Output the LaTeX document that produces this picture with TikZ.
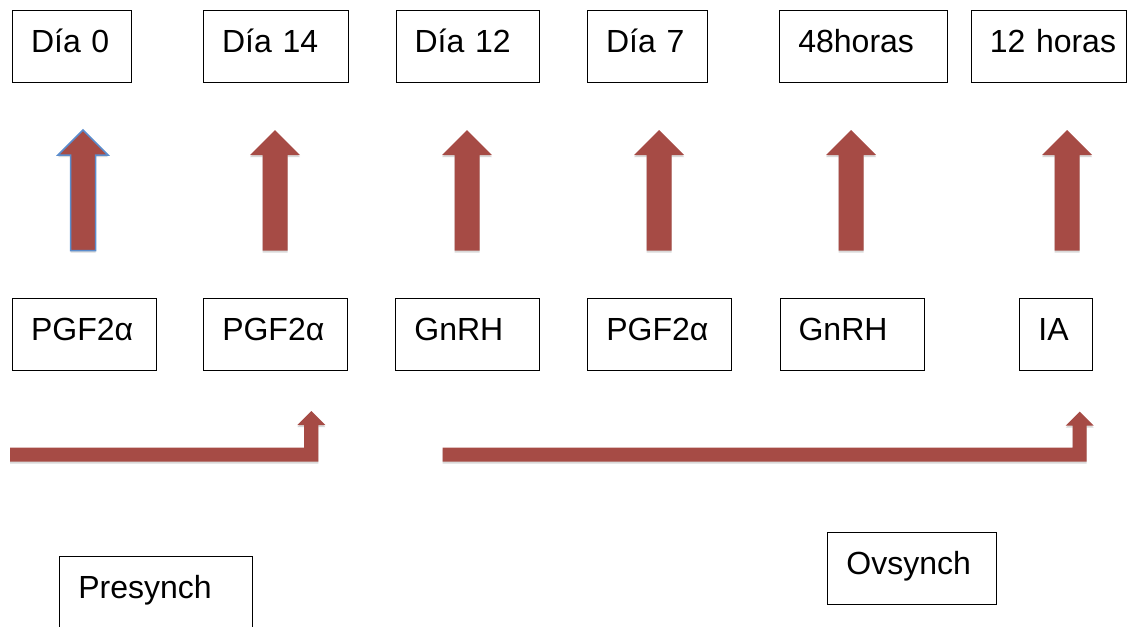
\documentclass[tikz,border=0pt]{standalone}
\usepackage{fontspec}
\setmainfont{Liberation Sans}
\usetikzlibrary{shadows}
\newlength{\ux}
\setlength{\ux}{0.75pt}
\definecolor{flecharoja}{RGB}{166,75,69}
\definecolor{bordeazul}{RGB}{91,141,205}

\begin{document}
\begin{tikzpicture}[x=0.75pt,y=-0.75pt,
        caja/.style={draw,line width=1.1\ux,anchor=north west,inner xsep=18.5\ux,inner ysep=0pt,
            text height=42\ux,text depth=30\ux,align=left,font=\fontsize{24}{28}\selectfont},
        flecha/.style={fill=flecharoja,drop shadow={shadow xshift=0pt,shadow yshift=-2\ux,fill=black!60,opacity=0.25}}]
    \useasboundingbox (0,0) rectangle (1127,626);
    % fila de dias
    \node[caja,text width=82\ux] (d0) at (12,10) {\mbox{Día 0}};
    \node[caja,text width=108\ux] (d14) at (203,10) {\mbox{Día 14}};
    \node[caja,text width=106.5\ux] (d12) at (395.5,10) {\mbox{Día 12}};
    \node[caja,text width=83\ux] (d7) at (587,10) {\mbox{Día 7}};
    \node[caja,text width=131\ux] (h48) at (779.3,10) {\mbox{48horas}};
    \node[caja,text width=118.3\ux] (h12) at (970.7,10) {\mbox{12 horas}};
    % flechas verticales
    \foreach \cx in {83,275,467,659,851,1067}{
        \fill[flecha] (\cx-12.5,250.5)--(\cx-12.5,155)--(\cx-25,155)--(\cx,130)--(\cx+25,155)--(\cx+12.5,155)--(\cx+12.5,250.5)--cycle;
    }
    \draw[bordeazul,line width=1.5\ux,line join=miter] (70.5,250.5)--(70.5,155)--(58,155)--(83,130)--(108,155)--(95.5,155)--(95.5,250.5)--cycle;
    % fila de tratamientos
    \node[caja,text width=107\ux] (p1) at (12,298) {PGF2α};
    \node[caja,text width=107\ux] (p2) at (203.2,298) {PGF2α};
    \node[caja,text width=107\ux] (g1) at (395.3,298) {GnRH};
    \node[caja,text width=107\ux] (p3) at (587.3,298) {PGF2α};
    \node[caja,text width=107\ux] (g2) at (779.5,298) {GnRH};
    \node[caja,text width=35.4\ux] (ia) at (1019.3,298) {IA};
    % flechas acodadas
    \fill[flecha] (10,447.5)--(304.2,447.5)--(304.2,425)--(297.3,425)--(311.3,411)--(325.3,425)--(318.4,425)--(318.4,461.5)--(10,461.5)--cycle;
    \fill[flecha] (442.7,447.5)--(1072.7,447.5)--(1072.7,425.7)--(1065.7,425.7)--(1079.7,411.7)--(1093.7,425.7)--(1086.7,425.7)--(1086.7,461.5)--(442.7,461.5)--cycle;
    % protocolos
    \node[caja,text width=155.4\ux] (pre) at (59.3,556) {Presynch};
    \node[caja,text width=131.4\ux] (ov) at (827.3,532.3) {Ovsynch};
\end{tikzpicture}
\end{document}
